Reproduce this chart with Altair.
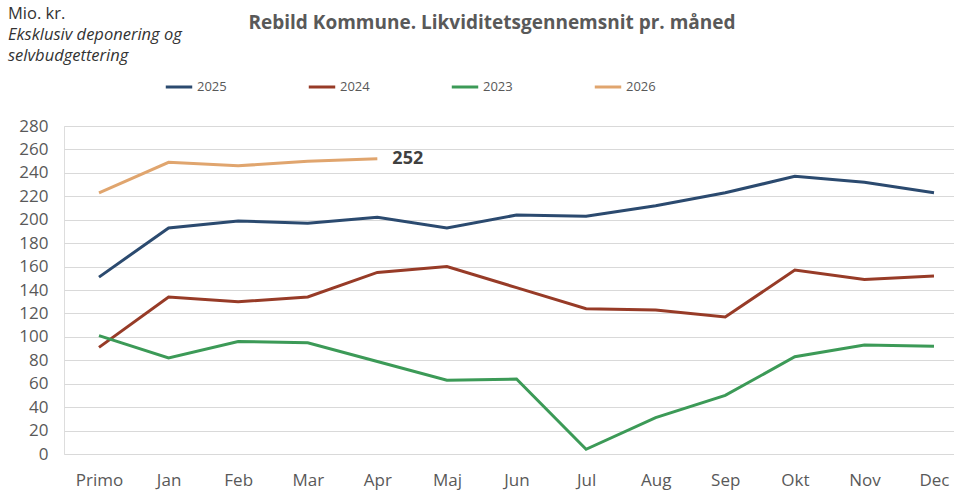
import altair as alt
import pandas as pd
import json

months = ["Primo", "Jan", "Feb", "Mar", "Apr", "Maj", "Jun", "Jul", "Aug", "Sep", "Okt", "Nov", "Dec"]
s2025 = [151, 193, 199, 197, 202, 193, 204, 203, 212, 223, 237, 232, 223]
s2024 = [91, 134, 130, 134, 155, 160, 142, 124, 123, 117, 157, 149, 152]
s2023 = [101, 82, 96, 95, 79, 63, 64, 4, 31, 50, 83, 93, 92]
s2026 = [223, 249, 246, 250, 252]
series_names = ["2025", "2024", "2023", "2026"]
series_colors = ["#2B4A6F", "#973B27", "#3C9A57", "#E0A56E"]
y_ticks = list(range(0, 281, 20))

rows = []
for name, vals in zip(series_names, [s2025, s2024, s2023, s2026]):
    for i, (m, v) in enumerate(zip(months, vals)):
        rows.append({"Idx": i, "Måned": m, "Serie": name, "Værdi": v})
df = pd.DataFrame(rows)
li = len(s2026) - 1
last = pd.DataFrame([{"Idx": li, "Måned": months[li], "Serie": "2026", "Værdi": s2026[-1]}])

FONT = "Open Sans"
GRAY = "#595959"

W = 890
step = (870 - 35) / (len(months) - 1)
x_dom = [-35 / step, (len(months) - 1) + (W - 870) / step]

x = alt.X("Idx:Q", title=None,
          scale=alt.Scale(domain=x_dom, nice=False, zero=False),
          axis=alt.Axis(values=list(range(len(months))), labelExpr=f"{json.dumps(months)}[datum.value]",
                        ticks=False, domain=False, grid=False, labelFlush=False,
                        labelFont=FONT, labelFontSize=17, labelColor=GRAY, labelPadding=18))
y = alt.Y("Værdi:Q", title=None,
          scale=alt.Scale(domain=[0, 280], nice=False),
          axis=alt.Axis(values=y_ticks, ticks=False, domain=False, gridColor="#D9D9D9",
                        gridWidth=1, labelFont=FONT, labelFontSize=17, labelColor=GRAY,
                        labelPadding=16, labelOverlap=False))

lines = alt.Chart(df).mark_line(strokeWidth=3).encode(
    x=x, y=y,
    color=alt.Color("Serie:N", scale=alt.Scale(domain=series_names, range=series_colors),
                    legend=alt.Legend(title=None, orient="none", legendX=100, legendY=-54,
                                      direction="horizontal", columns=4, symbolType="stroke",
                                      symbolStrokeWidth=3, symbolSize=700, labelFont=FONT,
                                      labelFontSize=13, labelColor=GRAY, columnPadding=75,
                                      labelOffset=3)),
    detail="Serie:N",
)

label = alt.Chart(last).mark_text(align="left", baseline="middle", dx=15, fontSize=18,
                                  fontWeight="bold", font=FONT, color="#404040").encode(
    x=x, y=y, text="Værdi:Q")

title = alt.Chart(last).mark_text(align="center", baseline="middle", fontSize=19,
                                  fontWeight="bold", font=FONT, color=GRAY).encode(
    x=alt.value(428), y=alt.value(-103),
    text=alt.value("Rebild Kommune. Likviditetsgennemsnit pr. måned"))

note1 = alt.Chart(last).mark_text(align="left", baseline="middle", fontSize=16.5,
                                  font=FONT, color="#333333").encode(
    x=alt.value(-56), y=alt.value(-112), text=alt.value("Mio. kr."))
note2 = alt.Chart(last).mark_text(align="left", baseline="middle", fontSize=16.5,
                                  font=FONT, fontStyle="italic", color="#333333").encode(
    x=alt.value(-56), y=alt.value(-91), text=alt.value("Eksklusiv deponering og"))
note3 = alt.Chart(last).mark_text(align="left", baseline="middle", fontSize=16.5,
                                  font=FONT, fontStyle="italic", color="#333333").encode(
    x=alt.value(-56), y=alt.value(-70), text=alt.value("selvbudgettering"))

chart = alt.layer(lines, label, title, note1, note2, note3).properties(
    width=W, height=328,
    autosize=alt.AutoSizeParams(type="none"),
    padding={"left": 64, "top": 126, "right": 0, "bottom": 36},
).configure_view(stroke=None).configure(background="white")

chart.save("out.html", embed_options={"renderer": "svg", "actions": False})
